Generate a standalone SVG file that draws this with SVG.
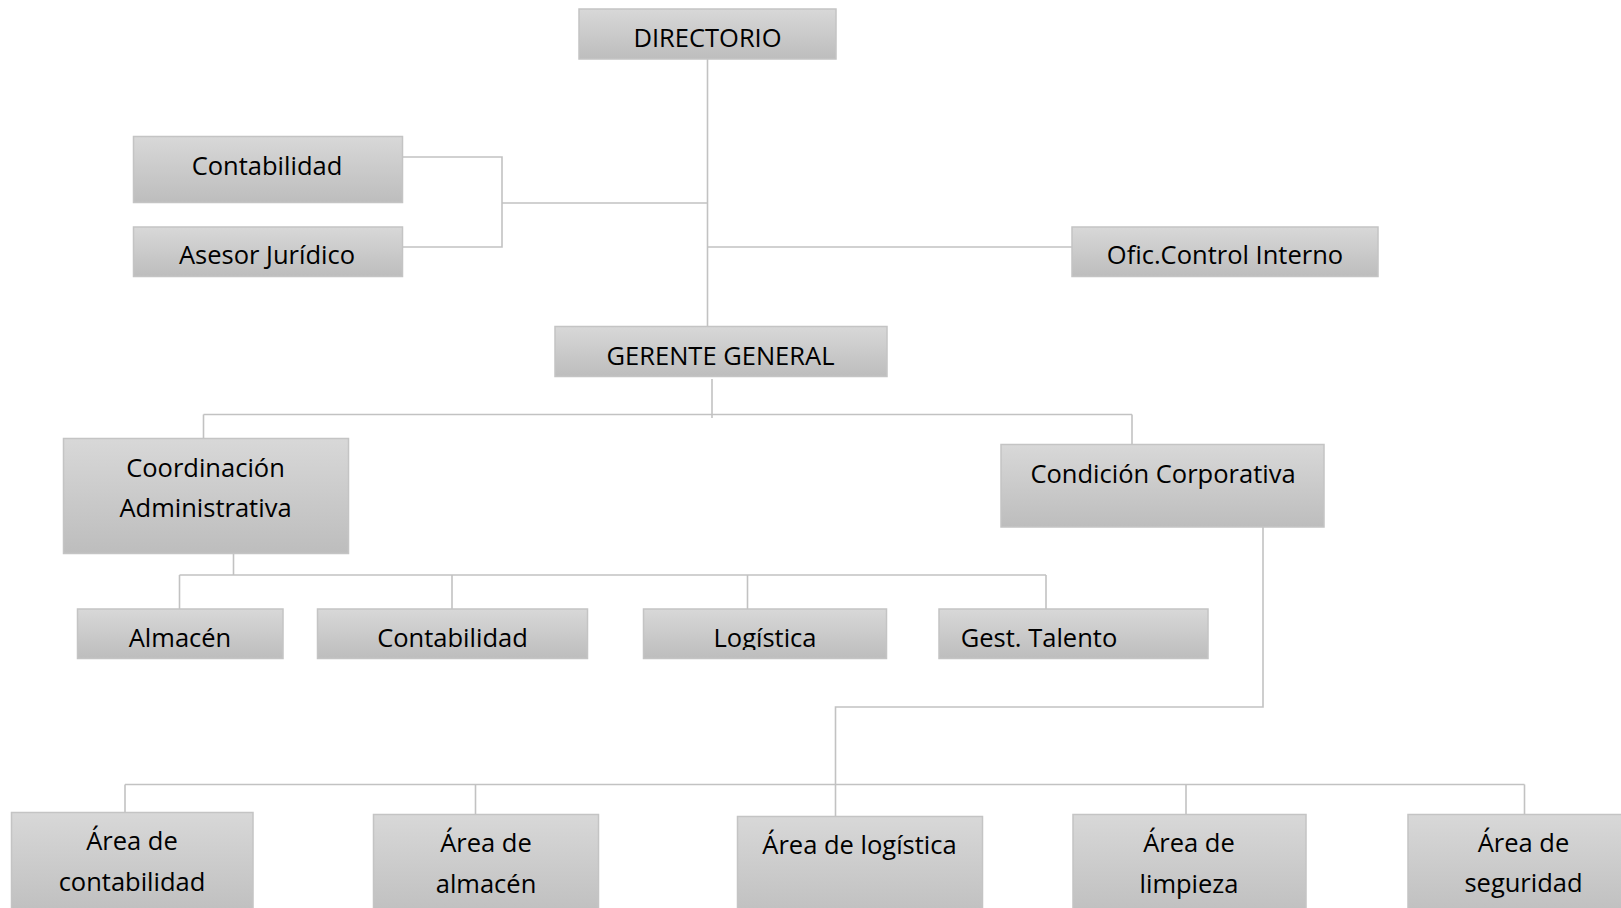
<svg xmlns="http://www.w3.org/2000/svg" width="1621" height="908" viewBox="0 0 1621 908">
<defs>
<linearGradient id="g" x1="0" y1="0" x2="0" y2="1">
<stop offset="0" stop-color="#d8d8d8"/>
<stop offset="1" stop-color="#bdbdbd"/>
</linearGradient>
<clipPath id="c2"><rect x="0" y="600" width="1621" height="50"/></clipPath>
</defs>
<style>
.b{fill:url(#g);stroke:#c4c4c4;stroke-width:1.5}
.t{font-family:"Open Sans","Liberation Sans",sans-serif;font-size:25.5px;fill:#000;text-anchor:middle}
.l{fill:none;stroke:#c2c2c2;stroke-width:1.6}
</style>
<rect width="1621" height="908" fill="#fff"/>
<g id="connectors" class="l">
<path d="M707.5 59V327"/>
<path d="M402 157H502V247H402M502 203H707.5"/>
<path d="M707.5 247H1072"/>
<path d="M712 379V418M203.5 414.5H1132M203.5 414.5V438M1132 414.5V444"/>
<path d="M233.5 553V575M179.5 575H1046M179.5 575V609M452 575V609M747.5 575V609M1046 575V609"/>
<path d="M1263 527V707H835.5V816M125 784.5H1524.5M125 784.5V812M475.5 784.5V814M1186 784.5V814M1524.5 784.5V814"/>
</g>
<g id="directorio"><rect class="b" x="579" y="9" width="257" height="50"/><text class="t" x="707.5" y="46.5">DIRECTORIO</text></g>
<g id="contabilidad1"><rect class="b" x="133.5" y="136.5" width="269" height="66"/><text class="t" x="267" y="175">Contabilidad</text></g>
<g id="asesor"><rect class="b" x="133.5" y="227" width="269" height="49.5"/><text class="t" x="267" y="264">Asesor Jurídico</text></g>
<g id="ofic"><rect class="b" x="1072" y="227" width="306" height="49.5"/><text class="t" x="1225" y="264">Ofic.Control Interno</text></g>
<g id="gerente"><rect class="b" x="555" y="326.5" width="332" height="50"/><text class="t" x="720.5" y="365">GERENTE GENERAL</text></g>
<g id="coordinacion"><rect class="b" x="63.5" y="438.5" width="285" height="115"/><text class="t" x="205.5" y="476.5">Coordinación</text><text class="t" x="205.5" y="517">Administrativa</text></g>
<g id="condicion"><rect class="b" x="1001" y="444.5" width="323" height="82.5"/><text class="t" x="1163" y="483">Condición Corporativa</text></g>
<g id="almacen"><rect class="b" x="77.5" y="609" width="205.5" height="49.5"/><text class="t" x="180" y="646.5" clip-path="url(#c2)">Almacén</text></g>
<g id="contabilidad2"><rect class="b" x="317.5" y="609" width="270" height="49.5"/><text class="t" x="452.5" y="646.5" clip-path="url(#c2)">Contabilidad</text></g>
<g id="logistica"><rect class="b" x="643.5" y="609" width="243" height="49.5"/><text class="t" x="765" y="646.5" clip-path="url(#c2)">Logística</text></g>
<g id="talento"><rect class="b" x="939" y="609" width="269" height="49.5"/><text class="t" x="1039" y="646.5" clip-path="url(#c2)">Gest. Talento</text></g>
<g id="a-contabilidad"><rect class="b" x="11.5" y="812.5" width="241.5" height="110"/><text class="t" x="132" y="850">Área de</text><text class="t" x="132" y="891">contabilidad</text></g>
<g id="a-almacen"><rect class="b" x="373.5" y="814.5" width="225" height="110"/><text class="t" x="486" y="852">Área de</text><text class="t" x="486" y="893">almacén</text></g>
<g id="a-logistica"><rect class="b" x="737.5" y="816.5" width="245" height="110"/><text class="t" x="859.5" y="854">Área de logística</text></g>
<g id="a-limpieza"><rect class="b" x="1073" y="814.5" width="233" height="110"/><text class="t" x="1189" y="852">Área de</text><text class="t" x="1189" y="893">limpieza</text></g>
<g id="a-seguridad"><rect class="b" x="1408" y="814.5" width="240" height="110"/><text class="t" x="1523.5" y="852">Área de</text><text class="t" x="1523.5" y="892">seguridad</text></g>
</svg>
